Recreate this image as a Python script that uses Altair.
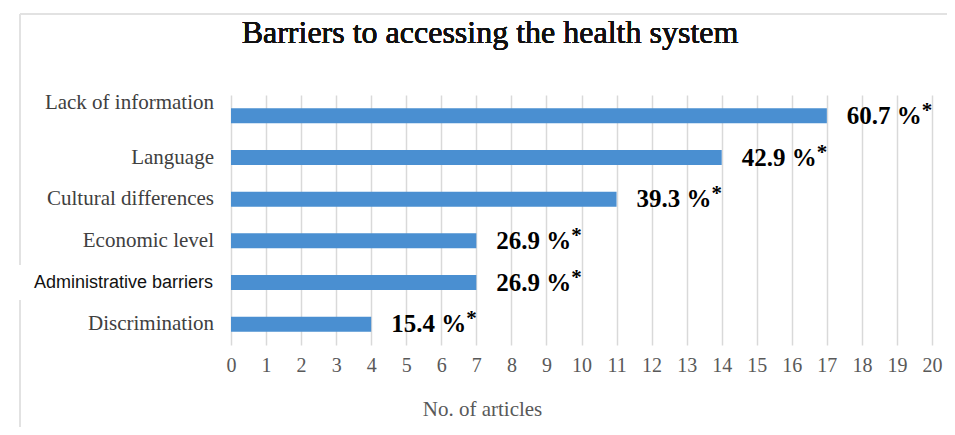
import altair as alt
import pandas as pd

categories = ["Lack of information", "Language", "Cultural differences",
              "Economic level", "Administrative barriers", "Discrimination"]
articles = [17, 14, 11, 7, 7, 4]
percent_labels = ["60.7 %", "42.9 %", "39.3 %", "26.9 %", "26.9 %", "15.4 %"]
x_ticks = list(range(0, 21))
chart_title = "Barriers to accessing the health system"
x_title = "No. of articles"

df = pd.DataFrame({"category": categories, "articles": articles, "label": percent_labels})

W, H = 701, 250
SERIF = "Liberation Serif"

x_axis = alt.Axis(values=x_ticks, tickCount=30, format="d", grid=True, gridColor="#d9d9d9",
                  gridWidth=1.5, domain=False, ticks=False, labelFont=SERIF, labelFontSize=20,
                  labelColor="#595959", labelPadding=10, labelOverlap=False,
                  labelFlush=False, title=x_title,
                  titleFont=SERIF, titleFontSize=21, titleFontWeight="normal",
                  titleColor="#595959", titleX=251, titleY=64,
                  titleBaseline="middle")
x_scale = alt.Scale(domain=[0, 20], nice=False)
x_enc = alt.X("articles:Q", scale=x_scale, axis=x_axis)
y_enc = alt.Y("category:N", sort=categories, axis=None,
              scale=alt.Scale(paddingInner=0, paddingOuter=0))

base = alt.Chart(df)

bars = base.mark_bar(size=15, color="#4A8FD1").encode(x=x_enc, y=y_enc)

values = base.mark_text(align="left", baseline="middle", dx=20, font=SERIF, fontSize=25,
                        fontWeight="bold", color="black").encode(
    x=x_enc, y=y_enc, text="label:N")

stars = base.mark_text(align="left", baseline="middle", dx=95, dy=-5, font=SERIF, fontSize=21,
                       fontWeight="bold", color="black").encode(
    x=x_enc, y=y_enc, text=alt.value("*"))

lbl_common = dict(align="right", baseline="middle")
ylab_lack = base.transform_filter(
    alt.FieldOneOfPredicate(field="category", oneOf=["Lack of information"])
).mark_text(font=SERIF, fontSize=21, color="#404040", dy=-13, **lbl_common).encode(
    x=alt.value(-17), y=y_enc, text="category:N")

ylab_serif = base.transform_filter(
    alt.FieldOneOfPredicate(field="category",
                            oneOf=["Language", "Cultural differences", "Economic level", "Discrimination"])
).mark_text(font=SERIF, fontSize=21, color="#404040", **lbl_common).encode(
    x=alt.value(-17), y=y_enc, text="category:N")

ylab_sans = base.transform_filter(
    alt.FieldOneOfPredicate(field="category", oneOf=["Administrative barriers"])
).mark_text(font="Liberation Sans", fontSize=18, color="#111111", **lbl_common).encode(
    x=alt.value(-18), y=y_enc, text="category:N")

title_mark = base.mark_text(align="center", baseline="alphabetic", font=SERIF, fontSize=32,
                            color="#111111").encode(
    x=alt.value(259), y=alt.value(-52), text=alt.value(chart_title))

frame_style = dict(color="#e2e2e2", strokeWidth=2)
frame_top = base.mark_rule(**frame_style).encode(
    x=alt.value(-211), x2=alt.value(W + 15), y=alt.value(-81))
frame_left1 = base.mark_rule(**frame_style).encode(
    x=alt.value(-211), y=alt.value(-81), y2=alt.value(170))
frame_left2 = base.mark_rule(**frame_style).encode(
    x=alt.value(-211), y=alt.value(205), y2=alt.value(H + 82))

chart = alt.layer(
    bars, values, stars, frame_top, frame_left1, frame_left2,
    ylab_lack, ylab_serif, ylab_sans, title_mark
).properties(
    width=W, height=H,
    padding={"left": 223, "top": 87, "right": 15, "bottom": 82},
    autosize=alt.AutoSizeParams(type="none"),
).configure_view(stroke=None)

chart.save("out.html", embed_options={"renderer": "svg", "actions": False})
